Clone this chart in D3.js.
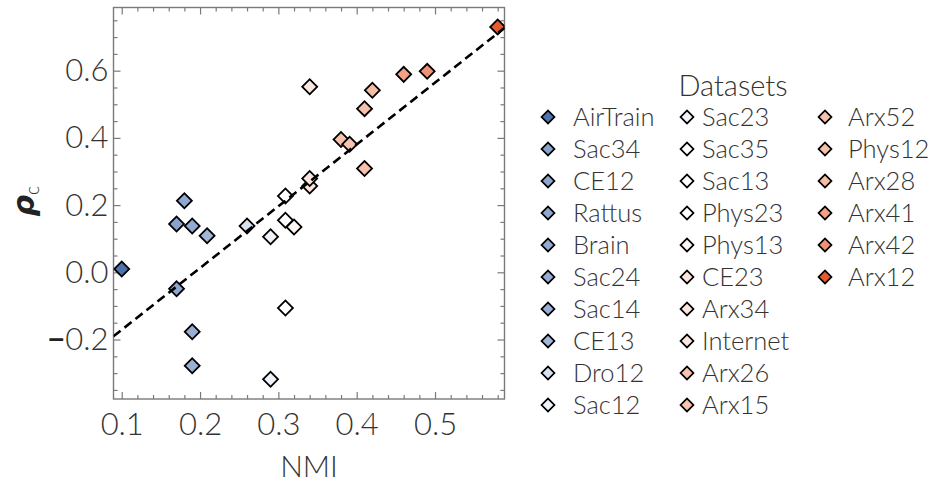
<!DOCTYPE html>
<html>
<head>
<meta charset="utf-8">
<script src="https://cdn.jsdelivr.net/npm/d3@7"></script>
<style>
  body { margin: 0; background: #fff; }
  svg text { font-family: Lato, "Open Sans", sans-serif; font-weight: 300; fill: #333; }
</style>
</head>
<body>
<svg id="chart" width="931" height="484"></svg>
<script>
// Datasets, in legend order (sorted by NMI)
const datasets = ["AirTrain", "Sac34", "CE12", "Rattus", "Brain", "Sac24", "Sac14", "CE13", "Dro12", "Sac12",
                  "Sac23", "Sac35", "Sac13", "Phys23", "Phys13", "CE23", "Arx34", "Internet", "Arx26", "Arx15",
                  "Arx52", "Phys12", "Arx28", "Arx41", "Arx42", "Arx12"];
const nmi = [0.100, 0.170, 0.170, 0.180, 0.190, 0.190, 0.190, 0.209, 0.260, 0.290,
             0.290, 0.309, 0.309, 0.309, 0.320, 0.340, 0.340, 0.340, 0.380, 0.391,
             0.410, 0.410, 0.420, 0.460, 0.490, 0.580];
const rhoC = [0.010, 0.144, -0.049, 0.213, 0.138, -0.177, -0.278, 0.109, 0.138, 0.106,
              -0.318, -0.106, 0.155, 0.227, 0.135, 0.257, 0.279, 0.552, 0.395, 0.381,
              0.309, 0.487, 0.542, 0.589, 0.598, 0.730];
const fillColors = ["#4f74ad", "#8aa3cd", "#8ea6cf", "#91a9d0", "#94abd1", "#97add3", "#9ab0d4", "#a3b7d8", "#d8e1f0", "#eef2f9",
                    "#eff3fa", "#ffffff", "#ffffff", "#ffffff", "#fdf5f2", "#fbe4dc", "#fbe5dd", "#fce7e0", "#f6c3af", "#f6c4b1",
                    "#f6c2ae", "#f6c0aa", "#f5bca6", "#f2a184", "#ef9274", "#e55a30"];
const xTicks = [0.1, 0.2, 0.3, 0.4, 0.5];
const yTicks = [-0.2, 0.0, 0.2, 0.4, 0.6];
const xDomain = [0.0895, 0.5887];
const yDomain = [-0.377, 0.788];

const svg = d3.select("#chart");
const plot = { left: 113.5, right: 504.5, top: 7.5, bottom: 399 };

const x = d3.scaleLinear().domain(xDomain).range([plot.left, plot.right]);
const y = d3.scaleLinear().domain(yDomain).range([plot.bottom, plot.top]);

const fmt = d3.format(".1f");
const xMinor = d3.range(0.1, 0.59, 0.02).filter(v => !xTicks.some(t => Math.abs(t - v) < 1e-6));
const yMinor = d3.range(-0.35, 0.78, 0.05).filter(v => !yTicks.some(t => Math.abs(t - v) < 1e-6));
const frameColor = "#7a7a7a";
const tickFont = 31;

function styleAxis(g) {
  g.select(".domain").remove();
  g.selectAll(".tick line").attr("stroke", frameColor).attr("stroke-width", 1.2);
}

// Draw a leading minus sign as a heavier glyph
function heavyMinus(g) {
  g.selectAll(".tick text").each(function () {
    const t = d3.select(this);
    const s = t.text();
    if (s.startsWith("\u2212")) {
      t.text(null);
      t.append("tspan").style("font-weight", 700).style("fill", "#222").text("\u2212");
      t.append("tspan").text(s.slice(1));
    }
  });
}

// Major ticks with labels (bottom, left) and mirrored ticks (top, right), all pointing inward
svg.append("g").attr("transform", `translate(0,${plot.bottom})`)
  .call(d3.axisBottom(x).tickValues(xTicks).tickFormat(fmt).tickSize(-7))
  .call(styleAxis)
  .call(g => g.selectAll(".tick text").attr("font-size", tickFont).attr("dy", null).attr("y", 36));
svg.append("g").attr("transform", `translate(0,${plot.bottom})`)
  .call(d3.axisBottom(x).tickValues(xMinor).tickFormat("").tickSize(-4)).call(styleAxis);
svg.append("g").attr("transform", `translate(0,${plot.top})`)
  .call(d3.axisTop(x).tickValues(xTicks).tickFormat("").tickSize(-7)).call(styleAxis);
svg.append("g").attr("transform", `translate(0,${plot.top})`)
  .call(d3.axisTop(x).tickValues(xMinor).tickFormat("").tickSize(-4)).call(styleAxis);

svg.append("g").attr("transform", `translate(${plot.left},0)`)
  .call(d3.axisLeft(y).tickValues(yTicks).tickFormat(fmt).tickSize(-7))
  .call(styleAxis)
  .call(g => g.selectAll(".tick text").attr("font-size", tickFont).attr("x", -5))
  .call(heavyMinus);
svg.append("g").attr("transform", `translate(${plot.left},0)`)
  .call(d3.axisLeft(y).tickValues(yMinor).tickFormat("").tickSize(-4)).call(styleAxis);
svg.append("g").attr("transform", `translate(${plot.right},0)`)
  .call(d3.axisRight(y).tickValues(yTicks).tickFormat("").tickSize(-7)).call(styleAxis);
svg.append("g").attr("transform", `translate(${plot.right},0)`)
  .call(d3.axisRight(y).tickValues(yMinor).tickFormat("").tickSize(-4)).call(styleAxis);

// Frame
svg.append("rect")
  .attr("x", plot.left).attr("y", plot.top)
  .attr("width", plot.right - plot.left).attr("height", plot.bottom - plot.top)
  .attr("fill", "none").attr("stroke", frameColor).attr("stroke-width", 1.4);

// Axis titles
svg.append("text")
  .attr("x", (plot.left + plot.right) / 2).attr("y", 477)
  .attr("text-anchor", "middle").attr("font-size", 30)
  .text("NMI");

const yTitle = svg.append("text")
  .attr("transform", `translate(34,${(plot.top + plot.bottom) / 2 - 2}) rotate(-90)`)
  .attr("text-anchor", "middle");
yTitle.append("tspan")
  .attr("font-size", 30).attr("font-style", "italic").style("font-weight", 700)
  .style("fill", "#222").style("font-family", "'DejaVu Sans', sans-serif")
  .text("ρ");
yTitle.append("tspan")
  .attr("font-size", 19).attr("dy", 5).style("fill", "#333")
  .text("c");

// Least-squares fit line across the plotted x range
const mx = d3.mean(nmi), my = d3.mean(rhoC);
const sxy = d3.sum(nmi, (v, i) => (v - mx) * (rhoC[i] - my));
const sxx = d3.sum(nmi, v => (v - mx) ** 2);
const slope = sxy / sxx, intercept = my - slope * mx;
svg.append("clipPath").attr("id", "plot-clip")
  .append("rect").attr("x", plot.left).attr("y", plot.top)
  .attr("width", plot.right - plot.left).attr("height", plot.bottom - plot.top);

const points = datasets.map((name, i) => ({ name, x: nmi[i], y: rhoC[i], color: fillColors[i] }));

const diamond = d3.symbol().type(d3.symbolSquare);

svg.append("g").attr("clip-path", "url(#plot-clip)")
  .selectAll("path").data(points).join("path")
  .attr("d", diamond.size(112)())
  .attr("transform", d => `translate(${x(d.x)},${y(d.y)}) rotate(45)`)
  .attr("fill", d => d.color).attr("stroke", "#000").attr("stroke-width", 1.8)
  .attr("stroke-linejoin", "miter");

svg.append("line")
  .attr("clip-path", "url(#plot-clip)")
  .attr("x1", x(xDomain[0])).attr("y1", y(slope * xDomain[0] + intercept))
  .attr("x2", x(xDomain[1])).attr("y2", y(slope * xDomain[1] + intercept))
  .attr("stroke", "#000").attr("stroke-width", 2.6).attr("stroke-dasharray", "9,5");

// Legend: three columns of ten rows
const legend = svg.append("g");
const colMarkerX = [548, 687, 825];
const colTextX = [573, 702, 848];
const rowY0 = 117, rowStep = 32, perCol = 10;

legend.append("text")
  .attr("x", 733).attr("y", 96)
  .attr("text-anchor", "middle").attr("font-size", 29)
  .text("Datasets");

const items = legend.selectAll("g.item").data(points).join("g").attr("class", "item")
  .attr("transform", (d, i) => `translate(0,${rowY0 + (i % perCol) * rowStep})`);
items.append("path")
  .attr("d", diamond.size(84)())
  .attr("transform", (d, i) => `translate(${colMarkerX[Math.floor(i / perCol)]},0) rotate(45)`)
  .attr("fill", d => d.color).attr("stroke", "#000").attr("stroke-width", 1.7);
items.append("text")
  .attr("x", (d, i) => colTextX[Math.floor(i / perCol)])
  .attr("dy", "0.36em").attr("font-size", 25.5)
  .text(d => d.name);
</script>
</body>
</html>
